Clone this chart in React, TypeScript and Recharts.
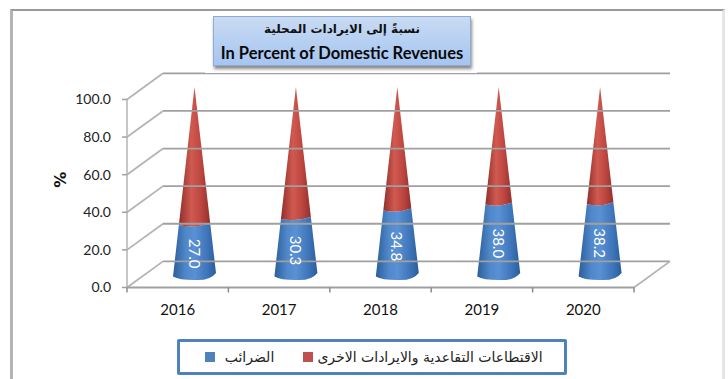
import React from 'react';
import { ComposedChart, Bar, XAxis, YAxis, ReferenceLine, Legend, LabelList } from 'recharts';

const years = ['2016', '2017', '2018', '2019', '2020'];
const taxes = [27.0, 30.3, 34.8, 38.0, 38.2];
const others = [73.0, 69.7, 65.2, 62.0, 61.8];
const gridValues = [0, 20, 40, 60, 80, 100];
const frontTicks = [0, 101.4, 202.8, 304.2, 405.6, 507];
const taxName = 'الضرائب';
const otherName = 'الاقتطاعات التقاعدية والايرادات الاخرى';
const titleAr = 'نسبةً إلى الايرادات المحلية';
const titleEn = 'In Percent of Domestic Revenues';

const rows = years.map((year, i) => ({ year, tax: taxes[i], other: others[i] }));

const GRID = '#a0a0a0';
const DEPTH_X = 36;
const DEPTH_V = 13.9;
const FRONT_W = 507;
const WALL_W = 543;
const LATO = 'Lato, sans-serif';
const ARABIC = '"DejaVu Sans", sans-serif';

function TaxCone(p: any) {
  const cx = p.x + p.width / 2;
  const R = p.width / 2;
  const base = p.y + p.height;
  const k = p.height / p.payload.tax;
  const apex = base - 100 * k;
  const r = (R * (p.y - apex)) / (base - apex);
  const d = `M${cx - R},${base + 1.5} L${cx - r},${p.y + 1} Q${cx},${p.y + 4} ${cx + r},${p.y - 1} L${cx + R},${base - 2} Q${cx + R - 6},${base + 6} ${cx},${base + 5} Q${cx - R + 6},${base + 5} ${cx - R},${base + 1.5} Z`;
  return <path d={d} fill="url(#coneBlue)" />;
}

function OtherCone(p: any) {
  const cx = p.x + p.width / 2;
  const R = p.width / 2;
  const apex = p.y;
  const bot = p.y + p.height;
  const k = p.height / p.payload.other;
  const base = apex + 100 * k;
  const r = (R * (bot - apex)) / (base - apex);
  const d = `M${cx},${apex} L${cx + r},${bot - 1} Q${cx},${bot + 4} ${cx - r},${bot + 1} Z`;
  return <path d={d} fill="url(#coneRed)" />;
}

function RotatedLabel(p: any) {
  const cx = p.x + p.width / 2;
  const cy = p.y + p.height / 2 + 4;
  return (
    <text x={cx} y={cy} fill="#fff" fontFamily={LATO} fontSize={15} textAnchor="middle" dominantBaseline="central" transform={`rotate(90 ${cx} ${cy})`}>
      {Number(p.value).toFixed(1)}
    </text>
  );
}

function LegendBox({ payload }: any) {
  const items = payload || [];
  return (
    <div style={{ display: 'flex', alignItems: 'center', height: 30, paddingLeft: 25, direction: 'ltr' }}>
      {items.map((it: any, i: number) => (
        <React.Fragment key={i}>
          <span style={{ width: 10, height: 10, background: it.color, display: 'inline-block', marginLeft: i ? 27 : 0, marginRight: i ? 3 : 8 }} />
          <span style={{ fontFamily: ARABIC, fontSize: 14, color: '#222', direction: 'rtl', whiteSpace: 'nowrap', width: i ? 228 : 53, textAlign: 'center' }}>{it.value}</span>
        </React.Fragment>
      ))}
    </div>
  );
}

export default function App() {
  return (
    <div style={{ position: 'absolute', left: 0, top: 0, width: 728, height: 379, background: '#fff', overflow: 'hidden' }}>
      <div style={{ position: 'absolute', left: 10, top: 9, width: 715, height: 372, boxSizing: 'border-box', borderTop: '2px solid #9a9a9a', borderLeft: '3px solid #b4b4b4', borderRight: '3px solid #e6e6e6', borderBottom: '2px solid #eeeeee' }} />
      <ComposedChart
        width={728}
        height={379}
        data={rows}
        margin={{ top: 72, right: 58, bottom: 25.5, left: 67 }}
        style={{ position: 'absolute', left: 0, top: 0 }}
      >
        <defs>
          <linearGradient id="coneBlue" x1="0" y1="0" x2="1" y2="0">
            <stop offset="0" stopColor="#2c5f9a" />
            <stop offset="0.3" stopColor="#5088ca" />
            <stop offset="0.5" stopColor="#5a90d4" />
            <stop offset="0.8" stopColor="#3e75b8" />
            <stop offset="1" stopColor="#2a5d9b" />
          </linearGradient>
          <linearGradient id="coneRed" x1="0" y1="0" x2="1" y2="0">
            <stop offset="0" stopColor="#8f2e2b" />
            <stop offset="0.4" stopColor="#d05a50" />
            <stop offset="0.7" stopColor="#bd4640" />
            <stop offset="1" stopColor="#942f2b" />
          </linearGradient>
        </defs>
        <XAxis xAxisId="base" dataKey="wallX" type="number" allowDataOverflow domain={[0, WALL_W]} ticks={frontTicks} interval={0} tickFormatter={() => ' '} tickSize={5} axisLine={false} tickLine={{ stroke: '#8c8c8c', strokeWidth: 1.5 }} height={1} />
        <XAxis xAxisId="front" dataKey="year" padding={{ left: 0, right: DEPTH_X }} axisLine={false} tickLine={false} tickMargin={10} height={29} tick={{ fontFamily: LATO, fontSize: 15, fill: '#111' }} />
        <XAxis xAxisId="cone" dataKey="year" hide height={0} padding={{ left: 17, right: 19 }} />
        <YAxis
          yAxisId="left"
          allowDataOverflow
          domain={[0, 114.6]}
          ticks={gridValues}
          width={60}
          tickSize={5}
          tickMargin={11}
          axisLine={false}
          tickLine={{ stroke: GRID, strokeWidth: 1.5 }}
          tickFormatter={(v: number) => v.toFixed(1)}
          tick={{ fontFamily: LATO, fontSize: 14, fill: '#222' }}
          label={{ value: '%', angle: -90, position: 'insideLeft', offset: 0, dx: -7, dy: 8, style: { fontFamily: ARABIC, fontWeight: 700, fontSize: 16, fill: '#111' } }}
        />
        <YAxis yAxisId="cone" hide width={0} domain={[-6.65, 107.95]} />
        {gridValues.map((v) => (
          <ReferenceLine key={`d${v}`} xAxisId="base" yAxisId="left" stroke="#b4b4b4" strokeWidth={1.8} segment={[{ x: 0, y: v }, { x: DEPTH_X, y: v + DEPTH_V }]} />
        ))}
        {gridValues.map((v) => (
          <ReferenceLine key={`b${v}`} xAxisId="base" yAxisId="left" stroke={GRID} strokeWidth={1.8} segment={[{ x: DEPTH_X, y: v + DEPTH_V }, { x: WALL_W, y: v + DEPTH_V }]} />
        ))}
        <ReferenceLine xAxisId="base" yAxisId="left" stroke="#b4b4b4" strokeWidth={1.5} segment={[{ x: 0, y: 0 }, { x: 0, y: 100 }]} />
        <ReferenceLine xAxisId="base" yAxisId="left" stroke={GRID} strokeWidth={2} segment={[{ x: 0, y: 0 }, { x: FRONT_W, y: 0 }]} />
        <ReferenceLine xAxisId="base" yAxisId="left" stroke="#b4b4b4" strokeWidth={1.8} segment={[{ x: FRONT_W, y: 0 }, { x: WALL_W, y: DEPTH_V }]} />
        <Bar xAxisId="cone" yAxisId="cone" dataKey="tax" name={taxName} stackId="s" barSize={43} fill="#4f81bd" shape={TaxCone} isAnimationActive={false}>
          <LabelList dataKey="tax" content={RotatedLabel} />
        </Bar>
        <Bar xAxisId="cone" yAxisId="cone" dataKey="other" name={otherName} stackId="s" barSize={43} fill="#c0504d" shape={OtherCone} isAnimationActive={false} />
        <Legend
          verticalAlign="bottom"
          itemSorter={null}
          content={<LegendBox />}
          wrapperStyle={{ position: 'absolute', left: 177, top: 339, width: 390, height: 36, boxSizing: 'border-box', border: '3px solid #4f81bd', borderRadius: 2, background: '#fff' }}
        />
      </ComposedChart>
      <div style={{ position: 'absolute', left: 205, top: 11, width: 272, height: 62, background: '#fff' }} />
      <div style={{ position: 'absolute', left: 213, top: 16, width: 258, height: 50, boxSizing: 'border-box', background: 'linear-gradient(#c9dbf3, #a5c5f1)', border: '1px solid #8fabd2', boxShadow: '1px 3px 3px #8a8a8a', textAlign: 'center', paddingTop: 1 }}>
        <div style={{ fontFamily: ARABIC, fontWeight: 700, fontSize: 12, lineHeight: '23px', color: '#111', direction: 'rtl' }}>{titleAr}</div>
        <div style={{ fontFamily: LATO, fontWeight: 700, fontSize: 16.5, lineHeight: '25px', color: '#0a0a0a', whiteSpace: 'nowrap' }}>{titleEn}</div>
      </div>
    </div>
  );
}
